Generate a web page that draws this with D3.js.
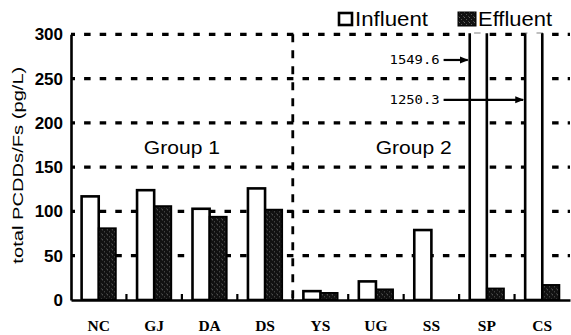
<!DOCTYPE html>
<html>
<head>
<meta charset="utf-8">
<script src="https://cdn.jsdelivr.net/npm/d3@7"></script>
<style>
    body { margin: 0; background: #fff; }
    svg { display: block; }
</style>
</head>
<body>
<div id="chart"></div>
<script>
// values
var categories = ["NC", "GJ", "DA", "DS", "YS", "UG", "SS", "SP", "CS"];
var influent = [117, 124, 103, 126, 10, 21, 79, 1549.6, 1250.3];
var effluent = [81, 106, 94, 102, 8, 12, 0, 13, 17];
var yTicks = [0, 50, 100, 150, 200, 250, 300];
var groups = ["Group 1", "Group 2"];
var notes = [
    { text: "1549.6", cat: "SP", at: 271 },
    { text: "1250.3", cat: "CS", at: 226 }
];

barChart();

function barChart() {

    let W = 571, H = 335;
    let margin = { top: 34.3, right: 1, bottom: 35, left: 71 },
        width = W - margin.left - margin.right,
        height = H - margin.top - margin.bottom;

    let svg = d3.select("#chart").append("svg")
        .attr("width", W)
        .attr("height", H);

    let defs = svg.append("defs");

    // speckled dark fill for effluent
    let pat = defs.append("pattern")
        .attr("id", "speckle")
        .attr("patternUnits", "userSpaceOnUse")
        .attr("width", 5).attr("height", 5);
    pat.append("rect").attr("width", 5).attr("height", 5).attr("fill", "#111");
    pat.append("rect").attr("x", 1).attr("y", 0).attr("width", 1).attr("height", 1).attr("fill", "#666");
    pat.append("rect").attr("x", 3).attr("y", 2).attr("width", 1).attr("height", 1).attr("fill", "#555");
    pat.append("rect").attr("x", 0).attr("y", 4).attr("width", 1).attr("height", 1).attr("fill", "#444");

    defs.append("marker")
        .attr("id", "arrow")
        .attr("viewBox", "0 0 10 10")
        .attr("refX", 9).attr("refY", 5)
        .attr("markerWidth", 4).attr("markerHeight", 4)
        .attr("markerUnits", "strokeWidth")
        .attr("orient", "auto")
        .append("path")
        .attr("d", "M0,1L10,5L0,9Z")
        .attr("fill", "#000");

    defs.append("clipPath")
        .attr("id", "plot")
        .append("rect")
        .attr("x", 0).attr("y", -1)
        .attr("width", width).attr("height", height + 1);

    let g = svg.append("g")
        .attr("transform", "translate(" + margin.left + "," + margin.top + ")");

    let x = d3.scaleBand()
        .domain(categories)
        .range([0, width]);

    let x1 = d3.scaleBand()
        .domain(["influent", "effluent"])
        .range([0, x.bandwidth()])
        .paddingOuter(0.62);

    let y = d3.scaleLinear()
        .domain([0, 300])
        .range([height, 0]);

    // dashed grid lines
    g.append("g")
        .selectAll("line")
        .data(yTicks.filter(d => d > 0))
        .enter()
        .append("line")
        .attr("x1", 0)
        .attr("x2", width)
        .attr("y1", d => y(d))
        .attr("y2", d => y(d))
        .attr("stroke", "#000")
        .attr("stroke-width", 3.2)
        .attr("stroke-dasharray", "6.5,9.1")
        .attr("stroke-dashoffset", 2.5);

    // group divider
    g.append("line")
        .attr("x1", x("YS"))
        .attr("x2", x("YS"))
        .attr("y1", y(300))
        .attr("y2", y(0))
        .attr("stroke", "#000")
        .attr("stroke-width", 2.8)
        .attr("stroke-dasharray", "8,8");

    let bars = g.append("g").attr("clip-path", "url(#plot)");

    bars.selectAll(".inf")
        .data(categories)
        .enter()
        .append("rect")
        .attr("class", "inf")
        .attr("x", d => x(d) + x1("influent"))
        .attr("width", x1.bandwidth())
        .attr("y", (d, i) => y(influent[i]))
        .attr("height", (d, i) => height - y(influent[i]))
        .attr("fill", "#fff")
        .attr("stroke", "#000")
        .attr("stroke-width", 2.6);

    bars.selectAll(".eff")
        .data(categories.filter((d, i) => effluent[i] > 0))
        .enter()
        .append("rect")
        .attr("class", "eff")
        .attr("x", d => x(d) + x1("effluent"))
        .attr("width", x1.bandwidth())
        .attr("y", d => y(effluent[categories.indexOf(d)]))
        .attr("height", d => height - y(effluent[categories.indexOf(d)]))
        .attr("fill", "url(#speckle)")
        .attr("stroke", "#000")
        .attr("stroke-width", 1.8);

    // small ticks between categories
    g.append("g")
        .selectAll("line")
        .data(categories.slice(1))
        .enter()
        .append("line")
        .attr("x1", d => x(d))
        .attr("x2", d => x(d))
        .attr("y1", height)
        .attr("y2", height - 6)
        .attr("stroke", "#000")
        .attr("stroke-width", 2.2);

    // y axis
    let yAxis = g.append("g")
        .call(d3.axisLeft(y).tickValues(yTicks).tickSize(0).tickPadding(8));
    yAxis.select(".domain").attr("stroke-width", 2.6);
    yAxis.selectAll("text")
        .attr("font-family", "'Liberation Sans', Arial, sans-serif")
        .attr("font-weight", "bold")
        .attr("font-size", 17)
        .attr("fill", "#000");

    // x axis
    let xAxis = g.append("g")
        .attr("transform", "translate(0," + height + ")")
        .call(d3.axisBottom(x).tickSize(0).tickPadding(0));
    xAxis.select(".domain").attr("stroke-width", 2.6);
    xAxis.selectAll("text")
        .attr("y", 31)
        .attr("dy", null)
        .attr("font-family", "'Liberation Serif', 'Times New Roman', serif")
        .attr("font-weight", "bold")
        .attr("font-size", 15.5)
        .attr("fill", "#000");

    // y axis title
    svg.append("text")
        .attr("transform", "translate(23," + (margin.top + y(150) - 2) + ") rotate(-90)")
        .attr("text-anchor", "middle")
        .attr("font-family", "'Liberation Sans', Arial, sans-serif")
        .attr("font-size", 15.5)
        .attr("textLength", 197)
        .attr("lengthAdjust", "spacingAndGlyphs")
        .text("total PCDDs/Fs (pg/L)");

    // group labels
    let groupX = [(x("NC") + x("YS")) / 2, x("SS") + 10];
    g.selectAll(".grp")
        .data(groups)
        .enter()
        .append("text")
        .attr("class", "grp")
        .attr("x", (d, i) => groupX[i])
        .attr("y", y(165))
        .attr("text-anchor", "middle")
        .attr("font-family", "'Liberation Sans', Arial, sans-serif")
        .attr("font-size", 19)
        .attr("textLength", 76)
        .attr("lengthAdjust", "spacingAndGlyphs")
        .text(d => d);

    // off-scale annotations
    notes.forEach(function(n) {
        let tip = x(n.cat) + x1("influent") - 2;
        let start = x("SS") + x.bandwidth() * 0.72;
        g.append("text")
            .attr("x", start - 4)
            .attr("y", y(n.at))
            .attr("dy", "0.35em")
            .attr("text-anchor", "end")
            .attr("font-family", "'DejaVu Sans Mono', monospace")
            .attr("font-size", 12.5)
            .attr("textLength", 50)
            .attr("lengthAdjust", "spacingAndGlyphs")
            .text(n.text);
        g.append("line")
            .attr("x1", start)
            .attr("x2", tip)
            .attr("y1", y(n.at))
            .attr("y2", y(n.at))
            .attr("stroke", "#000")
            .attr("stroke-width", 2.2)
            .attr("marker-end", "url(#arrow)");
    });

    // legend
    let legend = svg.append("g").attr("transform", "translate(338,12)");
    legend.append("rect")
        .attr("x", 1).attr("y", 1).attr("width", 13).attr("height", 12)
        .attr("fill", "#fff").attr("stroke", "#000").attr("stroke-width", 2.6);
    legend.append("text")
        .attr("x", 17).attr("y", 14)
        .attr("font-family", "'Liberation Sans', Arial, sans-serif")
        .attr("font-size", 21)
        .attr("textLength", 73)
        .attr("lengthAdjust", "spacingAndGlyphs")
        .text("Influent");
    legend.append("rect")
        .attr("x", 120).attr("y", 0).attr("width", 18).attr("height", 14)
        .attr("fill", "url(#speckle)").attr("stroke", "#000").attr("stroke-width", 1);
    legend.append("text")
        .attr("x", 140).attr("y", 14)
        .attr("font-family", "'Liberation Sans', Arial, sans-serif")
        .attr("font-size", 21)
        .attr("textLength", 74)
        .attr("lengthAdjust", "spacingAndGlyphs")
        .text("Effluent");
}
</script>
</body>
</html>
